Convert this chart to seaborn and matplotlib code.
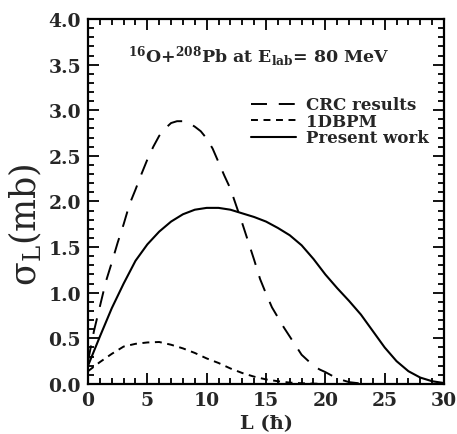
import numpy as np
import pandas as pd
import seaborn as sns
import matplotlib
matplotlib.use("Agg")
import matplotlib.pyplot as plt
from matplotlib.ticker import MultipleLocator

# Partial cross sections sigma_L (mb) versus angular momentum L (hbar)
L_present = [0, 1, 2, 3, 4, 5, 6, 7, 8, 9, 10, 11, 12, 13, 14, 15,
             16, 17, 18, 19, 20, 21, 22, 23, 24, 25, 26, 27, 28, 29, 30]
sigma_present = [0.20, 0.52, 0.83, 1.10, 1.35, 1.53, 1.67, 1.78, 1.86, 1.91,
                 1.93, 1.93, 1.91, 1.87, 1.83, 1.78, 1.71, 1.63, 1.52, 1.37,
                 1.20, 1.05, 0.91, 0.76, 0.58, 0.40, 0.25, 0.14, 0.07, 0.03, 0.01]

L_crc = [0, 0.5, 1, 1.5, 2, 2.5, 3, 3.5, 4, 4.5, 5, 5.5, 6, 6.5, 7, 7.5, 8,
         8.5, 9, 9.5, 10, 10.5, 11, 11.5, 12, 12.5, 13, 13.5, 14, 14.5, 15,
         15.5, 16, 16.5, 17, 17.5, 18, 18.5, 19, 19.5, 20, 21, 22, 23, 24]
sigma_crc = [0.25, 0.58, 0.85, 1.12, 1.33, 1.55, 1.75, 1.97, 2.13, 2.30, 2.46,
             2.60, 2.72, 2.80, 2.86, 2.88, 2.88, 2.86, 2.82, 2.77, 2.69, 2.58,
             2.43, 2.28, 2.14, 1.95, 1.76, 1.56, 1.36, 1.15, 0.99, 0.84, 0.73,
             0.62, 0.52, 0.42, 0.32, 0.26, 0.20, 0.16, 0.13, 0.06, 0.02, 0.005, 0.0]

L_dbpm = [0, 1, 2, 3, 4, 5, 6, 7, 8, 9, 10, 11, 12, 13, 14, 15, 16, 17, 18, 19, 20]
sigma_dbpm = [0.14, 0.24, 0.33, 0.41, 0.44, 0.455, 0.46, 0.43, 0.39, 0.34,
              0.28, 0.23, 0.17, 0.12, 0.08, 0.05, 0.03, 0.015, 0.008, 0.004, 0.0]

labels = ["CRC results", "1DBPM", "Present work"]
x_ticks = [0, 5, 10, 15, 20, 25, 30]
y_ticks = [0.0, 0.5, 1.0, 1.5, 2.0, 2.5, 3.0, 3.5, 4.0]

sns.set_theme(style="ticks")
plt.rcParams["font.family"] = ["DejaVu Serif"]
plt.rcParams["mathtext.fontset"] = "dejavuserif"
plt.rcParams["mathtext.default"] = "regular"
plt.rcParams["lines.scale_dashes"] = False

fig = plt.figure(figsize=(4.57, 4.35), dpi=100)
ax = fig.add_axes([0.1926, 0.115, 0.7790, 0.839])

sns.lineplot(x=L_crc, y=sigma_crc, ax=ax, color="black", lw=1.4,
             linestyle=(0, (11.5, 8.5)), label=labels[0])
sns.lineplot(x=L_dbpm, y=sigma_dbpm, ax=ax, color="black", lw=1.4,
             linestyle=(0, (5.0, 4.0)), label=labels[1])
sns.lineplot(x=L_present, y=sigma_present, ax=ax, color="black", lw=1.5,
             linestyle="-", label=labels[2])

ax.set_xlim(0, 30)
ax.set_ylim(0, 4.0)
ax.set_xticks(x_ticks)
ax.set_yticks(y_ticks)
ax.set_xticklabels([str(v) for v in x_ticks])
ax.set_yticklabels([f"{v:.1f}" for v in y_ticks])
ax.xaxis.set_minor_locator(MultipleLocator(1))
ax.yaxis.set_minor_locator(MultipleLocator(0.1))
ax.tick_params(which="both", direction="in", top=True, right=True,
               color="black", width=1.3)
ax.tick_params(which="major", length=8, labelsize=13.5, pad=5)
ax.tick_params(which="minor", length=4.5)
for lab in ax.get_xticklabels() + ax.get_yticklabels():
    lab.set_fontweight("bold")
for sp in ax.spines.values():
    sp.set_linewidth(1.6)
    sp.set_color("black")

ax.set_xlabel("L (ħ)", fontsize=14, fontweight="bold", labelpad=4)
ax.set_ylabel(r"$\sigma_{L}$(mb)", fontsize=25)
ax.yaxis.set_label_coords(-0.125, 0.44)

ax.text(0.112, 0.90, r"$^{16}$O+$^{208}$Pb at E$_{lab}$= 80 MeV",
        transform=ax.transAxes, fontsize=12.5, fontweight="bold",
        ha="left", va="center")

leg = ax.legend(loc="upper right", bbox_to_anchor=(0.975, 0.806), frameon=False,
                fontsize=12, handlelength=2.7, handletextpad=0.55,
                labelspacing=-0.03, borderaxespad=0)
for t in leg.get_texts():
    t.set_fontweight("bold")

fig.savefig("out.png", dpi=100)
